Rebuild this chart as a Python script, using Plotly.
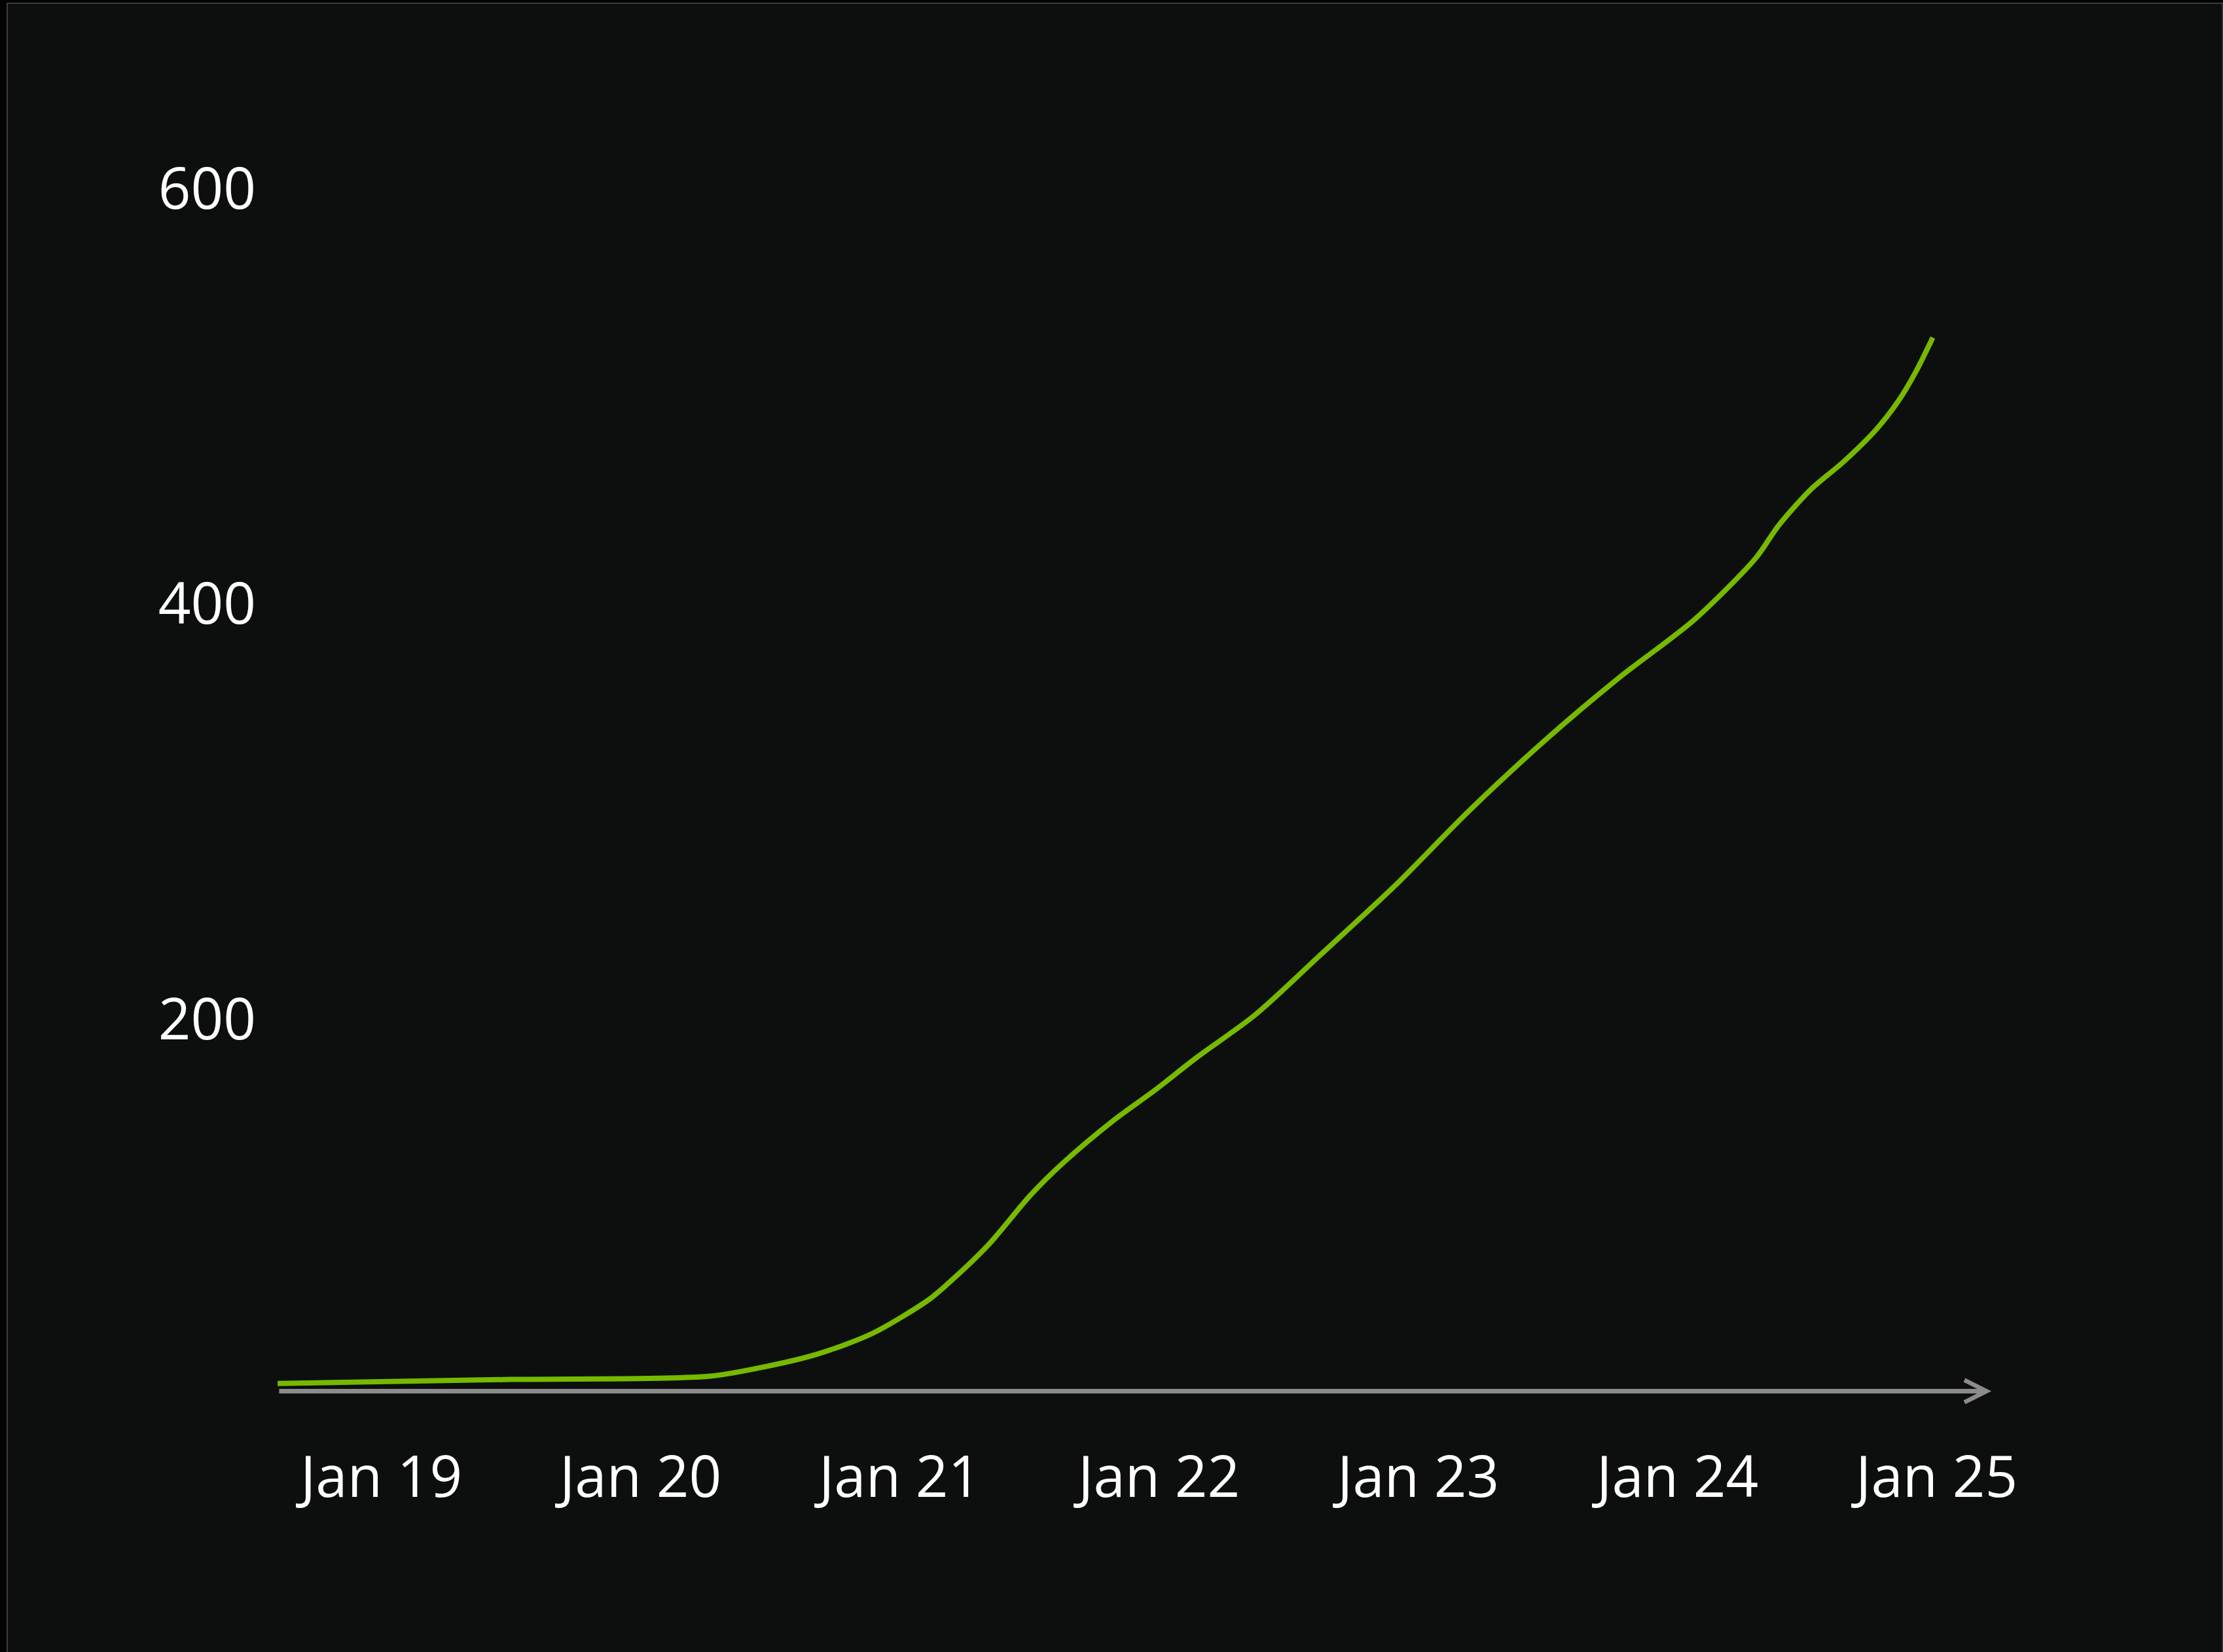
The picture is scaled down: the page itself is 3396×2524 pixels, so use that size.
import plotly.graph_objects as go

# Timeline position (fractional year) and cumulative value of the series
years = [2018.600, 2019.497, 2020.262, 2020.474, 2020.684, 2020.893, 2021.106,
         2021.179, 2021.341, 2021.503, 2021.631, 2021.826, 2021.985, 2022.146,
         2022.371, 2022.616, 2022.907, 2023.194, 2023.485, 2023.775, 2024.066,
         2024.303, 2024.389, 2024.515, 2024.641, 2024.768, 2024.851, 2024.919,
         2024.985]
values = [24.7, 26.6, 28.1, 32.6, 38.9, 48.7, 64.5,
          72.0, 91.3, 115.2, 131.0, 151.5, 166.0, 181.7,
          202.2, 230.3, 264.0, 300.2, 334.0, 364.6, 392.6,
          422.3, 437.7, 455.3, 468.6, 484.3, 497.6, 511.8,
          528.4]

x_ticks = [2019, 2020, 2021, 2022, 2023, 2024, 2025]
x_labels = ["Jan 19", "Jan 20", "Jan 21", "Jan 22", "Jan 23", "Jan 24", "Jan 25"]
y_ticks = [200, 400, 600]
y_labels = ["200", "400", "600"]

# Baseline arrow along the time axis
arrow_start = 2018.602
arrow_end = 2025.211
arrow_level = 20.96

W, H = 3396, 2524
L, R, T, B = 400, 3100, 150, 2192
GREEN = "#76b900"
FONT = "Open Sans"

fig = go.Figure()
fig.add_trace(go.Scatter(
    x=years, y=values, mode="lines",
    line=dict(color=GREEN, width=8, shape="spline", smoothing=0.8),
    hoverinfo="skip", showlegend=False,
))

fig.add_annotation(
    x=arrow_end, y=arrow_level, ax=arrow_start, ay=arrow_level,
    xref="x", yref="y", axref="x", ayref="y",
    text="", showarrow=True, arrowhead=5, arrowsize=0.95,
    arrowwidth=7, arrowcolor="#8c8c8c",
)

# Slide frame
fig.add_shape(
    type="rect", xref="paper", yref="paper", layer="below",
    x0=(11 - L) / (R - L), x1=(3395.5 - L) / (R - L),
    y0=(B - 2560) / (B - T), y1=(B - 5) / (B - T),
    line=dict(color="#3c3c3c", width=2), fillcolor="#0d0f0e",
)

fig.update_layout(
    width=W, height=H,
    margin=dict(l=L, r=W - R, t=T, b=H - B, pad=0),
    paper_bgcolor="#030303", plot_bgcolor="rgba(0,0,0,0)",
    font=dict(family=FONT, color="#ffffff", size=87),
    showlegend=False,
    xaxis=dict(
        range=[2018.539, 2025.357], tickvals=x_ticks, ticktext=x_labels,
        showgrid=False, zeroline=False, showline=False, ticks="",
        tickfont=dict(family=FONT, size=87, color="#ffffff"),
        ticklabelstandoff=7,
    ),
    yaxis=dict(
        range=[0, (B - T) / 3.1725], tickvals=y_ticks, ticktext=y_labels,
        showgrid=False, zeroline=False, showline=False, ticks="",
        tickfont=dict(family=FONT, size=87, color="#ffffff"),
        ticklabelstandoff=8,
    ),
)

fig.write_html("out.html")
